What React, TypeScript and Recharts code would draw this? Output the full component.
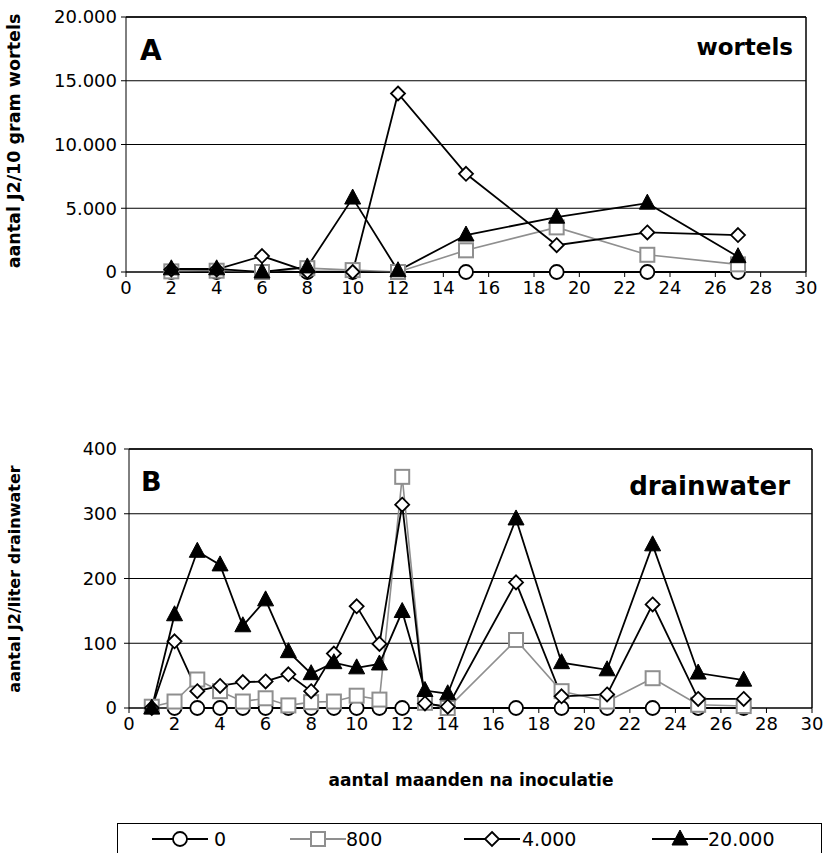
import React from "react";
import { CartesianGrid, Line, LineChart, ReferenceLine, XAxis, YAxis } from "recharts";

// Panel A: nematodes in roots (per 10 g), months after inoculation
const rootMonths = [2, 4, 6, 8, 10, 12, 15, 19, 23, 27];
const root0 = [0, 0, 0, 0, 0, 0, 0, 0, 0, 0];
const root800 = [50, 100, 0, 300, 150, 0, 1700, 3500, 1350, 600];
const root4000 = [200, 200, 1250, 50, 0, 14000, 7700, 2100, 3100, 2900];
const root20000 = [250, 250, 0, 400, 5800, 100, 2900, 4300, 5400, 1200];

// Panel B: nematodes per liter drain water
const drainMonths = [1, 2, 3, 4, 5, 6, 7, 8, 9, 10, 11, 12, 13, 14, 17, 19, 21, 23, 25, 27];
const drain0 = [null, 0, 0, 0, 0, 0, 0, 0, 0, 0, 0, 0, null, null, 0, 0, 0, 0, 0, 0];
const drain800 = [2, 10, 44, 26, 10, 15, 4, 9, 10, 19, 13, 357, 8, 0, 105, 26, 10, 46, 5, 3];
const drain4000 = [0, 103, 26, 34, 40, 41, 52, 26, 84, 157, 99, 314, 7, 2, 194, 18, 21, 160, 14, 14];
const drain20000 = [0, 144, 242, 221, 127, 167, 87, 53, 70, 62, 68, 149, 27, 22, 292, 70, 59, 252, 54, 43];

const xTicks = [0, 2, 4, 6, 8, 10, 12, 14, 16, 18, 20, 22, 24, 26, 28, 30];
const rootTicks = [0, 5000, 10000, 15000, 20000];
const drainTicks = [0, 100, 200, 300, 400];

const legendNames = ["0", "800", "4.000", "20.000"];

const FONT = "'DejaVu Sans', sans-serif";
const GREY = "#8f8f8f";

const rootData = rootMonths.map((m, i) => ({
  x: m,
  s0: root0[i],
  s800: root800[i],
  s4000: root4000[i],
  s20000: root20000[i]
}));

const drainData = drainMonths.map((m, i) => ({
  x: m,
  s0: drain0[i],
  s800: drain800[i],
  s4000: drain4000[i],
  s20000: drain20000[i]
}));

const fmt = (v: number) => String(v).replace(/\B(?=(\d{3})+(?!\d))/g, ".");

// marker shapes, shared by the chart dots and the legend
const shapes = {
  circle: (cx: number, cy: number, k?: string) => (
    <circle key={k} cx={cx} cy={cy} r={7} fill="#fff" stroke="#000" strokeWidth={1.8} />
  ),
  square: (cx: number, cy: number, k?: string) => (
    <rect key={k} x={cx - 7} y={cy - 7} width={14} height={14} fill="#fff" stroke={GREY} strokeWidth={2} />
  ),
  diamond: (cx: number, cy: number, k?: string) => (
    <polygon
      key={k}
      points={`${cx},${cy - 7} ${cx + 7},${cy} ${cx},${cy + 7} ${cx - 7},${cy}`}
      fill="#fff"
      stroke="#000"
      strokeWidth={1.8}
    />
  ),
  triangle: (cx: number, cy: number, k?: string) => (
    <polygon
      key={k}
      points={`${cx},${cy - 9} ${cx + 8},${cy + 6} ${cx - 8},${cy + 6}`}
      fill="#000"
      stroke="#000"
      strokeWidth={1}
    />
  )
};

type ShapeName = keyof typeof shapes;

const series: { key: string; shape: ShapeName; color: string }[] = [
  { key: "s0", shape: "circle", color: "#000" },
  { key: "s800", shape: "square", color: GREY },
  { key: "s4000", shape: "diamond", color: "#000" },
  { key: "s20000", shape: "triangle", color: "#000" }
];

const makeDot = (shape: ShapeName) => (p: any) => {
  const k = `dot-${p.index}`;
  if (p.cx == null || p.cy == null || p.value == null) return <g key={k} />;
  return shapes[shape](p.cx, p.cy, k);
};

const tickStyle = { fill: "#000", fontSize: 18, fontFamily: FONT };

function Panel({
  data,
  ticks,
  yWidth,
  yMargin,
  margin,
  height
}: {
  data: any[];
  ticks: number[];
  yWidth: number;
  yMargin: number;
  margin: { top: number; right: number; bottom: number; left: number };
  height: number;
}) {
  const max = ticks[ticks.length - 1];
  return (
    <LineChart width={827} height={height} data={data} margin={margin}>
      <CartesianGrid vertical={false} stroke="#000" strokeWidth={1} />
      <XAxis
        dataKey="x"
        type="number"
        domain={[0, 30]}
        ticks={xTicks}
        interval={0}
        height={48}
        tickSize={5}
        tickMargin={4}
        tick={tickStyle}
        stroke="#000"
      />
      <YAxis
        type="number"
        domain={[0, max]}
        ticks={ticks}
        interval={0}
        width={yWidth}
        tickSize={5}
        tickMargin={yMargin}
        tick={tickStyle}
        tickFormatter={fmt}
        stroke="#000"
      />
      <ReferenceLine y={max} stroke="#000" strokeWidth={1.5} />
      <ReferenceLine x={30} stroke="#000" strokeWidth={1.5} />
      {series.map((s) => (
        <Line
          key={s.key}
          dataKey={s.key}
          stroke={s.color}
          strokeWidth={s.color === GREY ? 1.6 : 1.8}
          type="linear"
          connectNulls
          dot={makeDot(s.shape)}
          activeDot={false}
          isAnimationActive={false}
        />
      ))}
    </LineChart>
  );
}

const abs = (left: number, top: number): React.CSSProperties => ({ position: "absolute", left, top });

export default function App() {
  const legendPos = [
    [152, 214],
    [290, 346],
    [464, 522],
    [652, 708]
  ];
  return (
    <div
      style={{
        position: "absolute",
        left: 0,
        top: 0,
        width: 827,
        height: 853,
        background: "#fff",
        fontFamily: FONT,
        color: "#000",
        overflow: "hidden"
      }}
    >
      <div style={abs(0, 0)}>
        <Panel
          data={rootData}
          ticks={rootTicks}
          yWidth={126}
          yMargin={4}
          margin={{ top: 17, right: 21, bottom: 0, left: 0 }}
          height={320}
        />
      </div>
      <div style={abs(0, 430)}>
        <Panel
          data={drainData}
          ticks={drainTicks}
          yWidth={129}
          yMargin={7}
          margin={{ top: 19, right: 15, bottom: 4, left: 0 }}
          height={330}
        />
      </div>

      {/* panel letters and titles */}
      <div style={{ ...abs(140, 37), fontSize: 28, fontWeight: "bold", lineHeight: 1 }}>A</div>
      <div style={{ position: "absolute", right: 34, top: 36, fontSize: 23, fontWeight: "bold", lineHeight: 1 }}>
        wortels
      </div>
      <div style={{ ...abs(141, 468), fontSize: 27, fontWeight: "bold", lineHeight: 1 }}>B</div>
      <div style={{ position: "absolute", right: 37, top: 473, fontSize: 26, fontWeight: "bold", lineHeight: 1 }}>
        drainwater
      </div>

      {/* y-axis titles */}
      <div
        style={{
          position: "absolute",
          left: 15,
          top: 141,
          transform: "translate(-50%, -50%) rotate(-90deg)",
          whiteSpace: "nowrap",
          fontSize: 17.5,
          fontWeight: "bold",
          lineHeight: 1
        }}
      >
        aantal J2/10 gram wortels
      </div>
      <div
        style={{
          position: "absolute",
          left: 15,
          top: 579,
          transform: "translate(-50%, -50%) rotate(-90deg)",
          whiteSpace: "nowrap",
          fontSize: 16,
          fontWeight: "bold",
          lineHeight: 1
        }}
      >
        aantal J2/liter drainwater
      </div>

      {/* x-axis title */}
      <div
        style={{
          position: "absolute",
          left: 471,
          top: 780,
          transform: "translate(-50%, -50%)",
          whiteSpace: "nowrap",
          fontSize: 17,
          fontWeight: "bold",
          lineHeight: 1
        }}
      >
        aantal maanden na inoculatie
      </div>

      {/* legend */}
      <div
        style={{
          position: "absolute",
          left: 117,
          top: 823,
          width: 705,
          height: 60,
          border: "1px solid #000",
          boxSizing: "border-box"
        }}
      />
      {series.map((s, i) => (
        <React.Fragment key={s.key}>
          <svg style={abs(legendPos[i][0], 828)} width={56} height={22}>
            <line x1={0} y1={11} x2={56} y2={11} stroke={s.color} strokeWidth={1.8} />
            {shapes[s.shape](28, 11)}
          </svg>
          <div style={{ ...abs(legendPos[i][1], 828), fontSize: 19, lineHeight: "22px" }}>{legendNames[i]}</div>
        </React.Fragment>
      ))}
    </div>
  );
}
